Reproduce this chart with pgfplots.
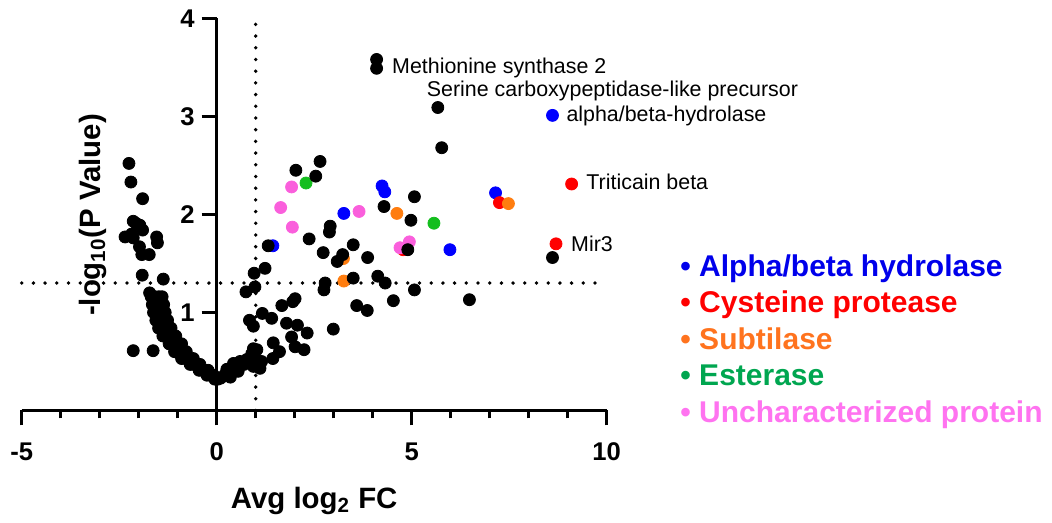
\documentclass[border=0pt]{standalone}
\usepackage{fontspec}
\setmainfont{Liberation Sans}
\usepackage{pgfplots}
\pgfplotsset{compat=1.18}
\definecolor{cblue}{RGB}{0,0,255}
\definecolor{cred}{RGB}{255,0,0}
\definecolor{corange}{RGB}{255,125,15}
\definecolor{cgreen}{RGB}{20,190,30}
\definecolor{cpink}{RGB}{250,95,220}
\definecolor{tblue}{RGB}{0,0,235}
\definecolor{tred}{RGB}{255,0,0}
\definecolor{torange}{RGB}{255,115,30}
\definecolor{tgreen}{RGB}{0,166,80}
\definecolor{tpink}{RGB}{255,115,240}

\pgfplotstableread{
x y
-2.25 2.52
-2.20 2.33
-1.90 2.16
-2.14 1.93
-2.07 1.91
-1.97 1.89
-2.35 1.77
-2.18 1.80
-2.14 1.76
-1.90 1.84
-1.54 1.77
-1.52 1.71
-1.98 1.67
-1.92 1.59
-1.73 1.59
-1.91 1.38
-1.37 1.34
-2.14 0.61
-1.63 0.61
-1.72 1.20
-1.68 1.16
-1.58 1.16
-1.48 1.16
-1.40 1.16
-1.65 1.08
-1.55 1.08
-1.45 1.08
-1.36 1.08
-1.62 1.00
-1.52 1.00
-1.42 1.00
-1.32 1.00
-1.56 0.92
-1.46 0.92
-1.36 0.92
-1.26 0.92
-1.49 0.84
-1.39 0.84
-1.28 0.84
-1.17 0.84
-1.38 0.76
-1.27 0.76
-1.16 0.76
-1.05 0.76
-1.22 0.68
-1.11 0.68
-1.00 0.68
-0.90 0.68
-1.08 0.60
-0.98 0.60
-0.88 0.60
-0.78 0.60
-0.90 0.53
-0.80 0.53
-0.70 0.53
-0.60 0.53
-0.68 0.47
-0.59 0.47
-0.51 0.47
-0.43 0.47
-0.45 0.41
-0.37 0.41
-0.29 0.41
-0.22 0.41
-0.25 0.36
-0.16 0.36
-0.08 0.36
-0.05 0.32
0.03 0.32
0.10 0.33
0.20 0.36
0.30 0.39
0.26 0.42
0.40 0.42
0.43 0.48
0.50 0.45
0.60 0.50
0.70 0.47
0.77 0.52
0.85 0.49
0.94 0.45
1.00 0.52
1.11 0.43
1.15 0.50
0.55 0.40
0.35 0.34
0.84 0.92
0.94 0.86
0.94 0.63
1.03 0.62
0.90 0.58
1.17 0.99
1.41 0.94
1.45 0.69
1.61 0.60
1.44 0.53
1.67 1.07
1.95 1.11
2.01 1.14
1.79 0.89
2.07 0.87
2.32 0.79
1.92 0.75
2.01 0.65
2.24 0.62
2.99 0.83
0.75 1.21
0.98 1.26
0.96 1.40
1.24 1.45
1.32 1.68
2.78 1.30
2.75 1.23
3.50 1.35
4.13 1.37
4.32 1.30
5.07 1.23
4.53 1.12
6.48 1.13
3.59 1.07
3.86 1.02
2.37 1.75
2.73 1.61
2.91 1.88
2.89 1.82
3.50 1.69
3.23 1.59
3.09 1.52
3.87 1.56
4.90 1.64
2.65 2.54
2.03 2.45
2.54 2.39
5.07 2.18
4.29 2.08
4.98 1.94
4.10 3.58
4.10 3.49
5.67 3.09
5.77 2.68
8.61 1.56
}\blackdata

\pgfplotstableread{
x y
1.44 1.68
3.26 2.01
4.24 2.29
4.31 2.23
7.15 2.22
5.98 1.64
8.61 3.01
}\bluedata

\pgfplotstableread{
x y
4.78 1.64
7.25 2.12
9.10 2.31
8.70 1.70
}\reddata

\pgfplotstableread{
x y
4.62 2.01
7.48 2.11
3.25 1.55
3.26 1.32
}\orangedata

\pgfplotstableread{
x y
2.29 2.32
5.57 1.91
}\greendata

\pgfplotstableread{
x y
1.92 2.28
1.64 2.07
1.94 1.87
3.65 2.03
4.70 1.66
4.94 1.72
}\pinkdata

\begin{document}
\begin{tikzpicture}
\begin{axis}[
  scale only axis, width=292.5pt, height=196.1pt,
  xmin=-5, xmax=10, ymin=0, ymax=4,
  axis x line=bottom, axis y line=middle,
  axis line style={line width=1.6pt},
  every inner x axis line/.append style={-},
  every inner y axis line/.append style={-},
  every outer x axis line/.append style={-},
  every outer y axis line/.append style={-},
  clip=false,
  xtick={-5,0,5,10}, xticklabels={-5,0,5,10},
  minor xtick={-4,-3,-2,-1,1,2,3,4,6,7,8,9},
  ytick={1,2,3,4}, yticklabels={1,2,3,4},
  tick align=outside,
  major tick length=7.5pt, minor tick length=4pt,
  every major tick/.append style={black, line width=1.6pt},
  every minor tick/.append style={black, line width=1.6pt},
  tick label style={font=\fontsize{12.8}{14}\selectfont\bfseries},
  xticklabel style={yshift=-5pt},
  xlabel={Avg log\textsubscript{2} FC},
  ylabel={-log\textsubscript{10}(P Value)},
  label style={font=\fontsize{14.7}{16}\selectfont\bfseries},
  xlabel style={at={(axis description cs:0.5,0)}, anchor=base, yshift=-48.75pt},
  ylabel style={at={(axis description cs:0.1219,0.4985)}, anchor=center, rotate=90},
]
\coordinate (bl) at (rel axis cs:0,0);
\draw[line width=1.9pt, line cap=round, dash pattern=on 0pt off 5.85pt] (axis cs:-5,1.3) -- (axis cs:10,1.3);
\draw[line width=1.9pt, line cap=round, dash pattern=on 0pt off 5.85pt] (axis cs:1,0) -- (axis cs:1,4);
\addplot[only marks, mark=*, mark size=3pt, color=cblue] table {\bluedata};
\addplot[only marks, mark=*, mark size=3pt, color=cred] table {\reddata};
\addplot[only marks, mark=*, mark size=3pt, color=corange] table {\orangedata};
\addplot[only marks, mark=*, mark size=3pt, color=cgreen] table {\greendata};
\addplot[only marks, mark=*, mark size=3pt, color=cpink] table {\pinkdata};
\addplot[only marks, mark=*, mark size=3pt, color=black] table {\blackdata};
\begin{scope}[every node/.style={anchor=base west, inner sep=0pt, font=\fontsize{10.7}{12}\selectfont}]
\node at (axis cs:4.49,3.44) {Methionine synthase 2};
\node at (axis cs:5.38,3.20) {Serine carboxypeptidase-like precursor};
\node at (axis cs:8.96,2.95) {alpha/beta-hydrolase};
\node at (axis cs:9.47,2.25) {Triticain beta};
\node at (axis cs:9.08,1.62) {Mir3};
\end{scope}
\begin{scope}[every node/.style={anchor=base west, inner sep=0pt, font=\fontsize{15}{17}\selectfont\bfseries}]
\node[text=tblue] at (axis cs:11.88,1.365) {• Alpha/beta hydrolase};
\node[text=tred] at (axis cs:11.88,0.995) {• Cysteine protease};
\node[text=torange] at (axis cs:11.88,0.624) {• Subtilase};
\node[text=tgreen] at (axis cs:11.88,0.253) {• Esterase};
\node[text=tpink] at (axis cs:11.88,-0.118) {• Uncharacterized protein};
\end{scope}
\end{axis}
\pgfresetboundingbox
\path[use as bounding box] ([shift={(-10.85pt,-56.25pt)}]bl) rectangle ([shift={(515.15pt,205.25pt)}]bl);
\end{tikzpicture}
\end{document}
